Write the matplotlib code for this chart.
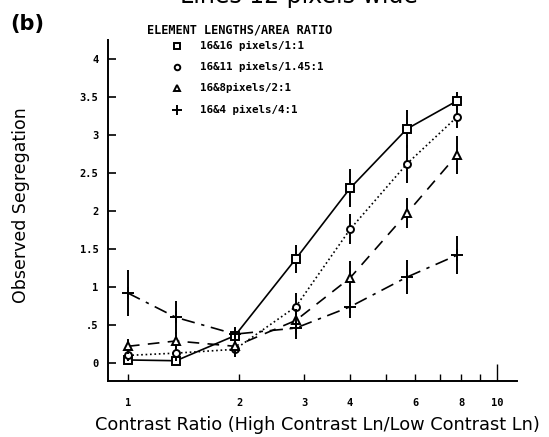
import matplotlib
matplotlib.use("Agg")
import matplotlib.pyplot as plt
import numpy as np

# contrast ratios tested
ratios = [1.0, 1.35, 1.95, 2.85, 4.0, 5.7, 7.8]

# observed segregation per element condition, with error bar half-lengths
sq_vals = [0.04, 0.03, 0.36, 1.37, 2.30, 3.08, 3.45]
sq_err = [0.06, 0.04, 0.08, 0.18, 0.25, 0.25, 0.12]
ci_vals = [0.10, 0.13, 0.18, 0.74, 1.76, 2.62, 3.24]
ci_err = [0.08, 0.10, 0.10, 0.18, 0.20, 0.25, 0.15]
tr_vals = [0.22, 0.29, 0.22, 0.56, 1.12, 1.97, 2.74]
tr_err = [0.10, 0.12, 0.10, 0.15, 0.22, 0.20, 0.25]
pl_vals = [0.92, 0.60, 0.38, 0.46, 0.74, 1.13, 1.42]
pl_err = [0.30, 0.22, 0.10, 0.15, 0.15, 0.22, 0.25]

labels = ["16&16 pixels/1:1", "16&11 pixels/1.45:1", "16&8pixels/2:1", "16&4 pixels/4:1"]
xticks = [1, 2, 3, 4, 6, 8, 10]
yticks = [0, 0.5, 1, 1.5, 2, 2.5, 3, 3.5, 4]
ytick_labels = ["0", ".5", "1", "1.5", "2", "2.5", "3", "3.5", "4"]

series = [
    (sq_vals, sq_err, "s", "-"),
    (ci_vals, ci_err, "o", ":"),
    (tr_vals, tr_err, "^", (0, (7, 5))),
    (pl_vals, pl_err, "+", (0, (8, 4, 2, 4))),
]

fig = plt.figure(figsize=(5.49, 4.37), dpi=100)
ax = fig.add_axes([0.1967, 0.1281, 0.745, 0.7804])

mono = {"family": "DejaVu Sans Mono", "weight": "bold"}


def draw_marker(x, y, mk, big):
    if mk == "+":
        ax.plot(x, y, linestyle="none", marker=mk, color="black",
                markersize=8 if big else 7, markeredgewidth=1.4, clip_on=False)
    else:
        size = (6 if big else 5) if mk != "o" else (5 if big else 4)
        ax.plot(x, y, linestyle="none", marker=mk, markerfacecolor="white",
                markeredgecolor="black", markersize=size, markeredgewidth=1.4,
                clip_on=False)


for vals, err, mk, ls in series:
    ax.errorbar(ratios, vals, yerr=err, fmt="none", ecolor="black",
                elinewidth=1.4, capsize=0)
    ax.plot(ratios, vals, color="black", linestyle=ls, linewidth=1.2)
    draw_marker(ratios, vals, mk, True)

ax.set_xscale("log")
ax.set_xlim(0.883, 11.33)
ax.set_ylim(-0.237, 4.25)

ax.spines["top"].set_visible(False)
ax.spines["right"].set_visible(False)
ax.spines["left"].set_linewidth(1.4)
ax.spines["bottom"].set_linewidth(1.4)

ax.set_yticks(yticks)
ax.set_yticklabels(ytick_labels, fontdict=mono, fontsize=7.5)
ax.tick_params(axis="y", direction="in", length=6, width=1.2, pad=7)

ax.xaxis.set_minor_locator(matplotlib.ticker.NullLocator())
ax.set_xticks(list(range(1, 11)))
ax.set_xticklabels([str(t) if t in xticks else "" for t in range(1, 11)],
                   fontdict=mono, fontsize=7.5)
ax.tick_params(axis="x", direction="in", length=5, width=1.0, pad=12)
ax.xaxis.get_major_ticks()[-1].tick1line.set_markersize(12)

ax.set_ylabel("Observed Segregation", fontsize=12.5)
ax.yaxis.set_label_coords(-0.19, 0.515)
ax.set_xlabel("Contrast Ratio (High Contrast Ln/Low Contrast Ln)", fontsize=12.8)
ax.xaxis.set_label_coords(0.513, -0.13)
ax.xaxis.label.set_va("center")

# legend drawn by hand as in the plotter output
ax.text(1.126, 4.38, "ELEMENT LENGTHS/AREA RATIO", fontdict=mono, fontsize=8.6,
        ha="left", va="center")
leg_y = [4.17, 3.89, 3.62, 3.33]
for (vals, err, mk, ls), lab, ly in zip(series, labels, leg_y):
    draw_marker([1.358], [ly], mk, False)
    ax.text(1.567, ly, lab, fontdict=mono, fontsize=7.8, ha="left", va="center")

fig.text(0.018, 0.945, "(b)", fontsize=15, fontweight="bold", ha="left", va="center")
fig.text(0.545, 0.994, "Lines 12 pixels wide", fontsize=17, ha="center",
         va="baseline")

fig.savefig("out.png", dpi=100)
